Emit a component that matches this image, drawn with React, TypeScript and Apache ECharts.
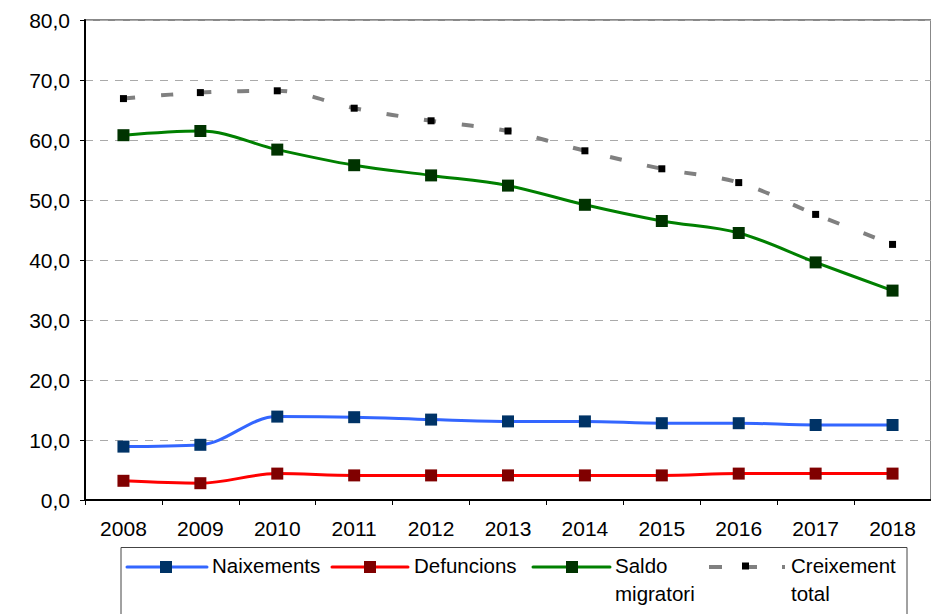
import React, { useEffect, useRef } from 'react';
import * as echarts from 'echarts';

const years = ['2008', '2009', '2010', '2011', '2012', '2013', '2014', '2015', '2016', '2017', '2018'];
const naixements = [8.9, 9.2, 13.9, 13.8, 13.4, 13.1, 13.1, 12.8, 12.8, 12.5, 12.5];
const defuncions = [3.2, 2.8, 4.4, 4.1, 4.1, 4.1, 4.1, 4.1, 4.4, 4.4, 4.4];
const saldoMigratori = [60.8, 61.5, 58.4, 55.8, 54.1, 52.4, 49.2, 46.5, 44.5, 39.6, 34.9];
const creixementTotal = [66.9, 67.9, 68.2, 65.3, 63.2, 61.5, 58.2, 55.2, 52.9, 47.6, 42.6];
const seriesNames = ['Naixements', 'Defuncions', 'Saldo\nmigratori', 'Creixement\ntotal'];

const FONT = '"Liberation Sans", Arial, sans-serif';
const lineColors = ['#3366ff', '#ff0000', '#008000', '#808080'];
const markerColors = ['#003366', '#800000', '#003300', '#000000'];

const fmt = (v: number) => v.toFixed(1).replace('.', ',');

export default function App() {
  const ref = useRef<HTMLDivElement>(null);

  useEffect(() => {
    if (!ref.current) return;
    const chart = echarts.init(ref.current, undefined, { renderer: 'svg' });

    const legendItems = [
      { lx1: 127, lx2: 207, mx: 166, tx: 212 },
      { lx1: 332, lx2: 408, mx: 370, tx: 414 },
      { lx1: 533, lx2: 610, mx: 572, tx: 615 },
      { lx1: 709, lx2: 786, mx: 745.5, tx: 791 },
    ];
    const legendY = 567;
    const legendGraphics: any[] = [
      {
        type: 'rect',
        shape: { x: 121, y: 547.5, width: 786, height: 100 },
        style: { fill: '#ffffff', stroke: '#444444', lineWidth: 1 },
      },
    ];
    legendItems.forEach((it, i) => {
      const dashed = i === 3;
      legendGraphics.push({
        type: 'line',
        shape: { x1: it.lx1, y1: legendY, x2: it.lx2, y2: legendY },
        style: {
          stroke: lineColors[i],
          lineWidth: dashed ? 4 : 3,
          lineDash: dashed ? [13, 20, 15, 25, 3, 100] : null,
          lineCap: dashed ? 'butt' : 'round',
        },
      });
      const ms = dashed ? 7 : 12;
      legendGraphics.push({
        type: 'rect',
        shape: { x: it.mx - ms / 2, y: legendY - ms / 2 - (dashed ? 1 : 0), width: ms, height: ms },
        style: { fill: markerColors[i] },
      });
      legendGraphics.push({
        type: 'text',
        x: it.tx,
        y: 551,
        style: {
          text: seriesNames[i],
          font: `20.5px ${FONT}`,
          fill: '#000000',
          lineHeight: 28,
          verticalAlign: 'top',
          align: 'left',
        },
      });
    });

    const mkSeries = (i: number, data: number[]) => {
      const dashed = i === 3;
      return {
        name: seriesNames[i],
        type: 'line',
        data,
        smooth: 0.35,
        symbol: 'rect',
        symbolSize: dashed ? 7 : 12,
        itemStyle: { color: markerColors[i] },
        lineStyle: {
          color: lineColors[i],
          width: dashed ? 4 : 3,
          type: dashed ? [12, 26] : 'solid',
          cap: 'butt',
        },
        z: dashed ? 3 : 2,
      };
    };

    chart.setOption({
      animation: false,
      backgroundColor: '#ffffff',
      grid: {
        left: 85,
        top: 20,
        right: -2,
        bottom: 114,
        show: true,
        borderColor: '#888888',
        borderWidth: 2,
        backgroundColor: 'transparent',
      },
      xAxis: {
        type: 'category',
        data: years,
        boundaryGap: true,
        axisLine: { lineStyle: { color: '#000000', width: 2 } },
        axisTick: { show: true, length: 5, lineStyle: { color: '#000000', width: 1 } },
        axisLabel: { color: '#000000', fontSize: 21, fontFamily: FONT, margin: 18 },
        splitLine: { show: false },
      },
      yAxis: {
        type: 'value',
        min: 0,
        max: 80,
        interval: 10,
        axisLine: { show: true, lineStyle: { color: '#000000', width: 2 } },
        axisTick: { show: true, length: 5, lineStyle: { color: '#000000', width: 1 } },
        axisLabel: { color: '#000000', fontSize: 21, fontFamily: FONT, margin: 15, formatter: fmt },
        splitLine: { show: true, lineStyle: { color: '#aaaaaa', width: 1, type: [8, 7] } },
      },
      series: [
        mkSeries(0, naixements),
        mkSeries(1, defuncions),
        mkSeries(2, saldoMigratori),
        mkSeries(3, creixementTotal),
      ],
      graphic: legendGraphics,
    });

    return () => chart.dispose();
  }, []);

  return (
    <div
      ref={ref}
      style={{ position: 'absolute', left: 0, top: 0, width: 931, height: 614, background: '#fff' }}
    />
  );
}
